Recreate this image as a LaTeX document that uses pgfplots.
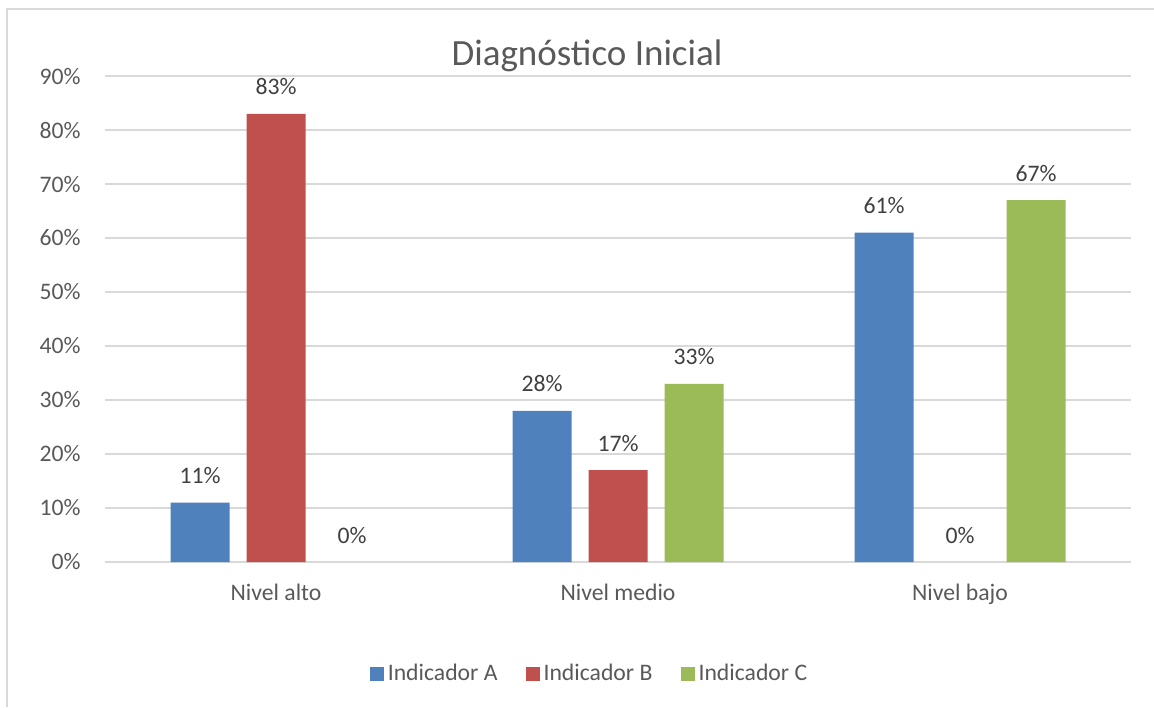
\documentclass[border=0pt]{standalone}
\usepackage{fontspec}
\setmainfont{Carlito}
\usepackage{pgfplots}
\pgfplotsset{compat=1.18}
\definecolor{cA}{HTML}{4F81BD}
\definecolor{cB}{HTML}{C0504D}
\definecolor{cC}{HTML}{9BBB59}
\definecolor{gridc}{HTML}{D9D9D9}
\definecolor{txt}{HTML}{595959}
\definecolor{lbl}{HTML}{404040}
\begin{document}
\begin{tikzpicture}
\useasboundingbox (-52.5pt,-72.5pt) rectangle (524.5pt,281pt);
\draw[gridc, line width=1pt] (-49pt,-72.5pt) -- (-49pt,276.5pt) -- (524.5pt,276.5pt);
\begin{axis}[
  at={(0pt,0pt)}, anchor=south west,
  scale only axis,
  width=513pt, height=243pt,
  xmin=-0.5, xmax=2.5,
  ymin=0, ymax=90,
  xtick={0,1,2},
  xticklabels={Nivel alto, Nivel medio, Nivel bajo},
  ytick={0,10,20,30,40,50,60,70,80,90},
  yticklabels={0\%,10\%,20\%,30\%,40\%,50\%,60\%,70\%,80\%,90\%},
  ymajorgrids,
  grid style={gridc, line width=1pt},
  axis line style={draw=none},
  major tick length=0pt,
  tick label style={font=\fontsize{11.85}{14}\selectfont, text=txt},
  yticklabel style={anchor=east, inner sep=0pt, xshift=-12pt},
  xticklabel style={anchor=base, inner sep=0pt, yshift=-19pt},
  ybar,
  bar width=29.5pt,
  /pgf/number format/assume math mode=true,
  nodes near coords={\pgfmathprintnumber{\pgfplotspointmeta}\%},
  every node near coord/.append style={anchor=base, inner sep=0pt, yshift=9.5pt, font=\fontsize{11.85}{14}\selectfont, text=lbl},
  legend columns=3,
  legend style={at={(0.4732,-0.2305)}, anchor=center, draw=none, fill=none,
    font=\fontsize{11.85}{14}\selectfont, text=txt,
    /tikz/every even column/.append style={column sep=12pt},
    /tikz/every odd column/.append style={column sep=0pt}},
  legend image code/.code={\fill[#1,draw=none] (0pt,-3.5pt) rectangle (7pt,3.5pt);},
  clip=false,
]
\addplot[fill=cA, draw=none, bar shift=-38pt] coordinates {(0,11) (1,28) (2,61)};
\addplot[fill=cB, draw=none, bar shift=0pt] coordinates {(0,83) (1,17)};
\addplot[fill=cC, draw=none, bar shift=38pt] coordinates {(1,33) (2,67)};
% zero-valued bars: only their labels are shown
\addplot[forget plot, fill=none, draw=none, bar shift=0pt] coordinates {(2,0)};
\addplot[forget plot, fill=none, draw=none, bar shift=38pt] coordinates {(0,0)};
\legend{Indicador A, Indicador B, Indicador C}
\node[anchor=base, font=\fontsize{18.5}{22}\selectfont, text=txt] at (axis description cs:0.4698,1.0226) {Diagnóstico Inicial};
\end{axis}
\end{tikzpicture}
\end{document}
